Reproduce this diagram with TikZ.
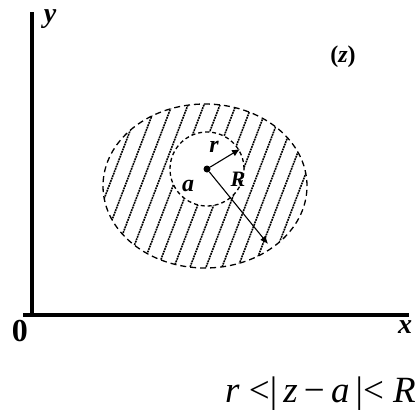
\documentclass[tikz,border=0pt]{standalone}
\usepackage{fontspec}
\setmainfont{Liberation Serif}
\usetikzlibrary{arrows.meta}
\begin{document}
\begin{tikzpicture}[x=1pt,y=-1pt,
  axis/.style={line width=3.6pt},
  lbl/.style={inner sep=0pt},
  hatch/.style={line width=1.6pt, dash pattern=on 1.8pt off 0.8pt},
  bound/.style={line width=1.3pt, dash pattern=on 6pt off 4pt},
  vec/.style={line width=1.1pt, -{Latex[length=8pt,width=7pt]}}]
\useasboundingbox (0,0) rectangle (420,418);
% axes
\coordinate (yt) at (32,12);
\coordinate (o) at (32,315);
\coordinate (xl) at (23,315);
\coordinate (xr) at (409,315);
\draw[axis] (o) -- (yt);
\draw[axis] (xl) -- (xr);
\node[lbl, font=\fontsize{28}{30}\selectfont\bfseries\itshape] (ylab) at (50,19) {y};
\node[lbl, font=\fontsize{28}{30}\selectfont\bfseries\itshape] (xlab) at (405,327) {x};
\node[lbl, font=\fontsize{32}{34}\selectfont\bfseries] (zero) at (20,331) {0};
\node[lbl, font=\fontsize{24}{26}\selectfont\bfseries] (zlab) at (343,57) {(\textit{z})};
% hatched annulus
\begin{scope}[even odd rule]
  \clip (205,186) ellipse [x radius=102pt, y radius=82pt]
        (207,169) circle [radius=37pt];
  \foreach \o in {-176,-160,...,190}{
    \draw[hatch] (205+\o-42,296) -- (205+\o+42,76);
  }
\end{scope}
\draw[bound] (205,186) ellipse [x radius=102pt, y radius=82pt];
\draw[bound, dash pattern=on 4pt off 3pt] (207,169) circle [radius=37pt];
% center and radii
\node[circle, fill=black, inner sep=0pt, minimum size=7pt] (ctr) at (207,169) {};
\coordinate (rend) at (240,149);
\coordinate (Rend) at (268,244);
\draw[vec] (ctr) -- (rend);
\draw[vec] (ctr) -- (Rend);
\node[lbl, font=\fontsize{24}{26}\selectfont\bfseries\itshape] (rl) at (214,147) {r};
\node[lbl, font=\fontsize{22}{24}\selectfont\bfseries\itshape] (Rl) at (238,179) {R};
\node[lbl, font=\fontsize{24}{26}\selectfont\bfseries\itshape] (al) at (188,186) {a};
% formula
\node[inner sep=0pt, anchor=east, font=\fontsize{37}{40}\selectfont] (form) at (416,394) {\textit{r} <|\,\textit{z}\,−\,\textit{a}\,|< \textit{R}};
\end{tikzpicture}
\end{document}
